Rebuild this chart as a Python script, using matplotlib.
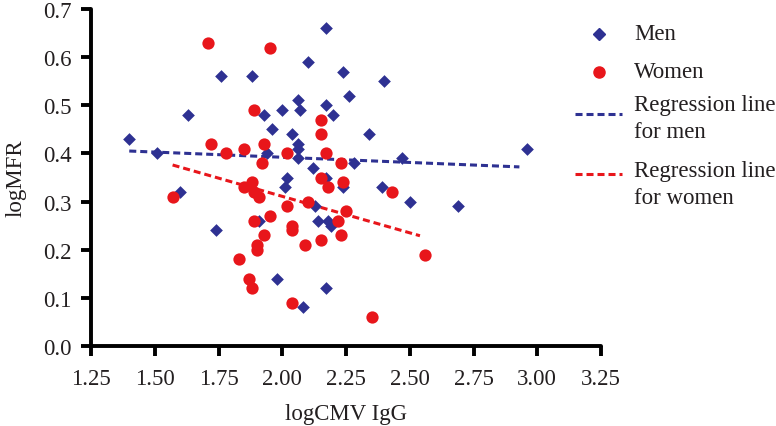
import matplotlib
matplotlib.use('Agg')
import matplotlib.pyplot as plt
from matplotlib.lines import Line2D

# logCMV IgG / logMFR values
men_x = [1.40, 1.51, 1.63, 1.76, 1.88, 2.10, 2.17, 2.24, 2.40, 2.26, 1.93, 2.00, 2.06, 2.07, 2.17,
         2.20, 1.96, 2.04, 2.06, 2.06, 1.94, 2.06, 2.12, 2.02, 2.17, 2.24, 2.01, 2.34, 2.96, 2.47,
         2.28, 2.39, 2.50, 2.69, 1.60, 2.13, 1.91, 2.14, 2.18, 2.19, 1.74, 1.98, 2.17, 2.08]
men_y = [0.43, 0.40, 0.48, 0.56, 0.56, 0.59, 0.66, 0.57, 0.55, 0.52, 0.48, 0.49, 0.51, 0.49, 0.50,
         0.48, 0.45, 0.44, 0.42, 0.41, 0.40, 0.39, 0.37, 0.35, 0.35, 0.33, 0.33, 0.44, 0.41, 0.39,
         0.38, 0.33, 0.30, 0.29, 0.32, 0.29, 0.26, 0.26, 0.26, 0.25, 0.24, 0.14, 0.12, 0.08]

women_x = [1.71, 1.95, 1.72, 1.78, 1.85, 1.89, 2.15, 2.15, 1.93, 2.02, 2.17, 1.92, 2.23, 2.15,
           2.24, 2.18, 1.85, 1.88, 1.89, 1.91, 1.57, 2.02, 2.10, 2.25, 1.95, 1.89, 2.22, 2.04,
           2.04, 1.93, 2.15, 2.23, 2.09, 1.90, 1.90, 1.83, 1.87, 1.88, 2.04, 2.43, 2.56, 2.35]
women_y = [0.63, 0.62, 0.42, 0.40, 0.41, 0.49, 0.47, 0.44, 0.42, 0.40, 0.40, 0.38, 0.38, 0.35,
           0.34, 0.33, 0.33, 0.34, 0.32, 0.31, 0.31, 0.29, 0.30, 0.28, 0.27, 0.26, 0.26, 0.25,
           0.24, 0.23, 0.22, 0.23, 0.21, 0.21, 0.20, 0.18, 0.14, 0.12, 0.09, 0.32, 0.19, 0.06]

# regression line end points
reg_men_x = [1.40, 2.93]
reg_men_y = [0.405, 0.372]
reg_women_x = [1.57, 2.54]
reg_women_y = [0.376, 0.229]

x_ticks = [1.25, 1.50, 1.75, 2.00, 2.25, 2.50, 2.75, 3.00, 3.25]
y_ticks = [0.0, 0.1, 0.2, 0.3, 0.4, 0.5, 0.6, 0.7]

BLUE = '#2E3192'
RED = '#E8161B'
INK = '#231F20'
DASH = (0, (2.3, 1.3))

plt.rcParams['font.family'] = ['Liberation Serif', 'DejaVu Serif']
plt.rcParams['font.size'] = 16.5

W, H = 776, 427
fig = plt.figure(figsize=(W / 100, H / 100), dpi=100)
ax = fig.add_axes([91 / W, 1 - 347 / H, (601 - 91) / W, (347 - 10) / H])

ax.scatter(men_x, men_y, marker='D', s=42, color=BLUE, linewidths=0, zorder=3)
ax.scatter(women_x, women_y, marker='o', s=78, color=RED, linewidths=0, zorder=3)
ax.plot(reg_men_x, reg_men_y, color=BLUE, lw=2.2, ls=DASH, zorder=2)
ax.plot(reg_women_x, reg_women_y, color=RED, lw=2.2, ls=DASH, zorder=2)

ax.set_xlim(1.25, 3.25)
ax.set_ylim(0.0, 0.7)
ax.set_xticks(x_ticks)
ax.set_xticklabels([f'{t:.2f}' for t in x_ticks])
ax.set_yticks(y_ticks)
ax.set_yticklabels([f'{t:.1f}' for t in y_ticks])

for side in ['top', 'right']:
    ax.spines[side].set_visible(False)
for side in ['left', 'bottom']:
    ax.spines[side].set_linewidth(2.8)
    ax.spines[side].set_color('black')
    ax.spines[side].set_capstyle('round')
ax.tick_params(direction='out', length=7, width=2.8, colors='black', labelcolor=INK, pad=7)
ax.tick_params(axis='x', pad=9)

ax.set_xlabel('logCMV IgG', color=INK, labelpad=10)
ax.set_ylabel('logMFR', color=INK, labelpad=12)

# legend drawn by hand so the entries sit where the reference has them
def fx(px):
    return px / W

def fy(py):
    return 1 - py / H

fig.add_artist(Line2D([fx(599)], [fy(35)], marker='D', ls='none', color=BLUE, markersize=6,
                      transform=fig.transFigure))
fig.add_artist(Line2D([fx(599)], [fy(73)], marker='o', ls='none', color=RED, markersize=8,
                      transform=fig.transFigure))
fig.add_artist(Line2D([fx(575), fx(622)], [fy(115), fy(115)], color=BLUE, lw=2.2, ls=DASH,
                      transform=fig.transFigure))
fig.add_artist(Line2D([fx(575), fx(622)], [fy(175), fy(175)], color=RED, lw=2.2, ls=DASH,
                      transform=fig.transFigure))

legend_texts = [('Men', 35), ('Women', 73), ('Regression line', 106), ('for men', 132),
                ('Regression line', 172), ('for women', 198)]
for txt, py in legend_texts:
    fig.text(fx(634), fy(py), txt, color=INK, ha='left', va='center')

fig.savefig('out.png', dpi=100)
